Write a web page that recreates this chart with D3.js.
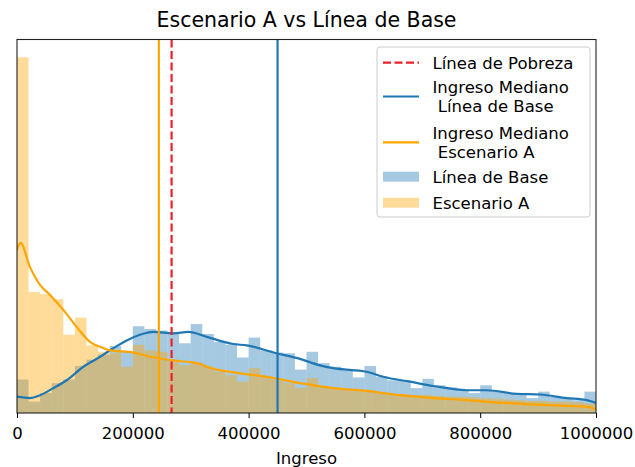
<!DOCTYPE html>
<html>
<head>
<meta charset="utf-8">
<script src="https://cdn.jsdelivr.net/npm/d3@7"></script>
<style>
  body { margin: 0; background: #fff; }
  text { font-family: "DejaVu Sans", sans-serif; fill: #000; }
</style>
</head>
<body>
<div id="chart"></div>
<script>
// density values (x 1e-6), 50 bins of 20000 from 0 to 1000000
const binWidth = 20000
const baseBins = [0.47, 0.16, 0.28, 0.42, 0.47, 0.66, 0.75, 0.82, 0.94, 0.86,
    1.22, 1.18, 1.16, 1.13, 0.98, 1.25, 1.11, 1.00, 0.96, 0.78,
    1.06, 0.88, 0.85, 0.84, 0.61, 0.86, 0.70, 0.65, 0.61, 0.50,
    0.66, 0.51, 0.46, 0.46, 0.35, 0.48, 0.39, 0.36, 0.33, 0.28,
    0.39, 0.30, 0.28, 0.25, 0.21, 0.30, 0.23, 0.21, 0.18, 0.30]
const scenBins = [5.00, 1.70, 1.67, 1.60, 1.10, 1.34, 0.95, 0.86, 0.84, 0.65,
    0.96, 0.88, 0.86, 0.72, 0.67, 0.70, 0.65, 0.58, 0.53, 0.44,
    0.63, 0.51, 0.49, 0.42, 0.35, 0.49, 0.37, 0.35, 0.32, 0.32,
    0.30, 0.27, 0.26, 0.26, 0.25, 0.25, 0.24, 0.23, 0.23, 0.22,
    0.21, 0.20, 0.19, 0.18, 0.17, 0.17, 0.16, 0.16, 0.15, 0.13]

// kde curves
const baseKdeX = [0, 22500, 39700, 62700, 85800, 114500, 143400, 166300, 189500, 212400,
    235400, 270000, 295900, 327600, 373600, 396700, 448500, 488800, 523300, 546300,
    604000, 632600, 678800, 719000, 776700, 811100, 863000, 903300, 949400, 984000, 1000000]
const baseKdeY = [0.23, 0.21, 0.25, 0.35, 0.46, 0.65, 0.79, 0.91, 1.02, 1.10,
    1.14, 1.12, 1.14, 1.07, 0.97, 0.95, 0.84, 0.76, 0.67, 0.63,
    0.58, 0.51, 0.44, 0.38, 0.32, 0.32, 0.27, 0.26, 0.21, 0.18, 0.14]
const scenKdeX = [0, 6000, 22500, 39700, 57000, 80000, 103000, 126000, 143400, 160600,
    200900, 229700, 269400, 293000, 316000, 327600, 373600, 431100, 488800, 546300,
    604000, 661500, 719000, 776700, 834200, 891200, 949200, 984000, 1000000]
const scenKdeY = [2.29, 2.39, 2.05, 1.80, 1.66, 1.45, 1.21, 1.00, 0.93, 0.88,
    0.85, 0.79, 0.74, 0.72, 0.69, 0.65, 0.57, 0.51, 0.42, 0.35,
    0.31, 0.25, 0.21, 0.18, 0.145, 0.12, 0.10, 0.09, 0.05]

const povertyLine = 267000
const medianBase = 450000
const medianScen = 245000
const xTicks = [0, 200000, 400000, 600000, 800000, 1000000]

const W = 635, H = 467
const plot = { left: 17, top: 39.5, right: 596, bottom: 413 }

const blue = "#1f77b4", orange = "#ffa500", red = "#f0202a"

const svg = d3.select("#chart").append("svg")
    .attr("width", W).attr("height", H)

const x = d3.scaleLinear().domain([0, 1000000]).range([plot.left, plot.right])
const y = d3.scaleLinear().domain([0, 5.25]).range([plot.bottom, plot.top])

svg.append("clipPath").attr("id", "clip")
    .append("rect")
    .attr("x", plot.left).attr("y", plot.top)
    .attr("width", plot.right - plot.left).attr("height", plot.bottom - plot.top)

const g = svg.append("g").attr("clip-path", "url(#clip)")

// histograms
function drawHist(values, color) {
    g.append("g").selectAll("rect")
        .data(values)
        .enter().append("rect")
        .attr("x", (d, i) => x(i * binWidth))
        .attr("width", (d, i) => x((i + 1) * binWidth) - x(i * binWidth))
        .attr("y", d => y(d))
        .attr("height", d => y(0) - y(d))
        .style("fill", color)
        .style("fill-opacity", 0.4)
}
drawHist(baseBins, blue)
drawHist(scenBins, orange)

// kde lines
const line = d3.line().x(d => x(d[0])).y(d => y(d[1])).curve(d3.curveMonotoneX)
g.append("path")
    .datum(d3.zip(baseKdeX, baseKdeY))
    .attr("d", line)
    .style("fill", "none").style("stroke", blue).style("stroke-width", 2.2)
g.append("path")
    .datum(d3.zip(scenKdeX, scenKdeY))
    .attr("d", line)
    .style("fill", "none").style("stroke", orange).style("stroke-width", 2.2)

// vertical lines
function vline(v, color, dash) {
    g.append("line")
        .attr("x1", x(v)).attr("x2", x(v))
        .attr("y1", plot.top).attr("y2", plot.bottom)
        .style("stroke", color).style("stroke-width", 2.2)
        .style("stroke-dasharray", dash || null)
}
vline(povertyLine, red, "8,3.5")
vline(medianBase, blue)
vline(medianScen, orange)

// frame
svg.append("rect")
    .attr("x", plot.left).attr("y", plot.top)
    .attr("width", plot.right - plot.left).attr("height", plot.bottom - plot.top)
    .style("fill", "none").style("stroke", "#222").style("stroke-width", 1.1)

// x axis
const xAxis = svg.append("g")
    .attr("transform", "translate(0," + plot.bottom + ")")
    .call(d3.axisBottom(x).tickValues(xTicks).tickFormat(d3.format("d")).tickSize(5).tickPadding(9))
xAxis.select(".domain").remove()
xAxis.selectAll("text").style("font-size", "16.5px").style("font-family", "DejaVu Sans")

svg.append("text")
    .attr("x", (plot.left + plot.right) / 2).attr("y", 464)
    .attr("text-anchor", "middle")
    .style("font-size", "16.5px")
    .text("Ingreso")

svg.append("text")
    .attr("x", (plot.left + plot.right) / 2).attr("y", 27)
    .attr("text-anchor", "middle")
    .style("font-size", "20.5px")
    .text("Escenario A vs Línea de Base")

// legend
const legend = svg.append("g")
legend.append("rect")
    .attr("x", 377).attr("y", 47).attr("width", 213).attr("height", 170)
    .attr("rx", 3)
    .style("fill", "#fff").style("fill-opacity", 0.8)
    .style("stroke", "#ccc").style("stroke-width", 1)

const legendItems = [
    { type: "line", color: red, dash: "8,3.5", lines: ["Línea de Pobreza"], yc: 62.7 },
    { type: "line", color: blue, lines: ["Ingreso Mediano", " Línea de Base"], yc: 96.5 },
    { type: "line", color: orange, lines: ["Ingreso Mediano", " Escenario A"], yc: 142.3 },
    { type: "patch", color: blue, lines: ["Línea de Base"], yc: 176.7 },
    { type: "patch", color: orange, lines: ["Escenario A"], yc: 202.7 }
]
legendItems.forEach(item => {
    if (item.type == "line") {
        legend.append("line")
            .attr("x1", 383).attr("x2", 419)
            .attr("y1", item.yc).attr("y2", item.yc)
            .style("stroke", item.color).style("stroke-width", 2.2)
            .style("stroke-dasharray", item.dash || null)
    } else {
        legend.append("rect")
            .attr("x", 383).attr("y", item.yc - 5).attr("width", 36).attr("height", 10)
            .style("fill", item.color).style("fill-opacity", 0.4)
    }
    const n = item.lines.length
    item.lines.forEach((t, k) => {
        legend.append("text")
            .attr("x", 432.5)
            .attr("y", item.yc + (k - (n - 1) / 2) * 19.6 + 6)
            .style("font-size", "16.5px")
            .style("white-space", "pre")
            .text(t)
    })
})
</script>
</body>
</html>
